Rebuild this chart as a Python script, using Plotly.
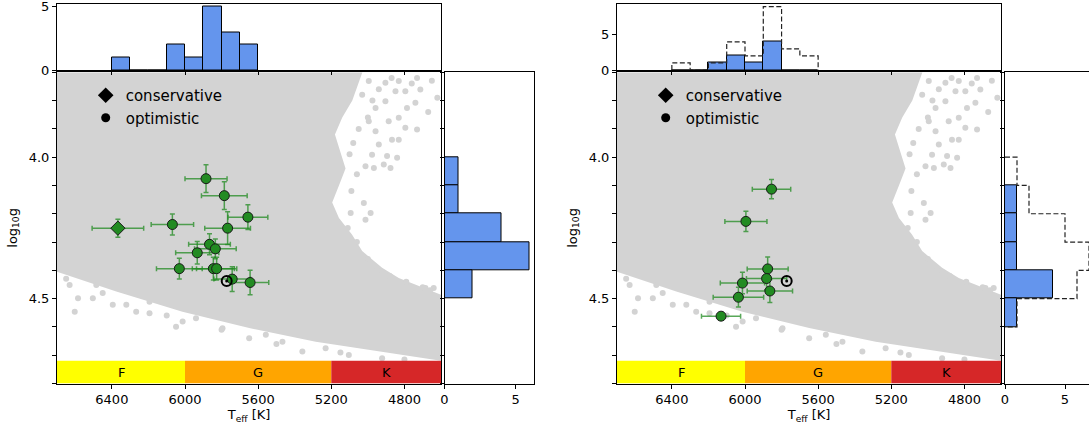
import numpy as np
import plotly.graph_objects as go

# ---------------- data ----------------
teff_ticks = [6400, 6000, 5600, 5200, 4800]
logg_major_ticks = [4.0, 4.5]
logg_minor_ticks = [3.7, 3.8, 3.9, 4.1, 4.2, 4.3, 4.4, 4.6, 4.7, 4.8]
teff_range = [6700, 4600]
logg_range = [4.8, 3.7]

spectral_types = ["F", "G", "K"]
spectral_edges = [6700, 6000, 5200, 4600]
spectral_colors = ["#ffff00", "#ffa500", "#d62728"]
spectral_band_logg = [4.72, 4.8]

# background stellar population: outline of the dense part
cloud_teff = [6700, 5030, 5085, 5140, 5180, 5122, 5158, 5195, 5158, 5086, 5031, 4922,
              4831, 4740, 4600, 4600, 4924, 5285, 5649, 6014, 6376, 6700]
cloud_logg = [3.70, 3.70, 3.80, 3.86, 3.92, 4.04, 4.10, 4.16, 4.215, 4.274, 4.332, 4.391,
              4.427, 4.45, 4.486, 4.72, 4.687, 4.652, 4.604, 4.546, 4.475, 4.405]
# background stellar population: isolated stars near the edges
sparse_teff = [4904, 4849, 4795, 4731, 4713, 4740, 4786, 4831, 4731, 4868, 4831, 4895, 4840,
               4913, 4876, 4967, 5013, 5022, 4985, 5013, 5094, 4685, 4640, 4995, 4958, 4904,
               4958, 4977, 4940, 4886, 5031, 4995, 4831, 4795,
               4650, 4620, 4670, 4760, 4870, 4940, 4975, 5000, 5050, 5080, 5100, 5060, 5090,
               5110, 5060, 5000, 4950, 4880, 4790, 4700, 4660,
               6603, 6585, 6504, 6395, 6321, 6267, 6194, 6049, 6013, 5940, 5795, 5649, 5558,
               5467, 5358, 5231, 5104, 4922, 6631, 6485, 6194,
               6650, 6450, 6100, 5800, 5500, 5150, 4800]
sparse_logg = [3.737, 3.767, 3.767, 3.72, 3.761, 3.808, 3.826, 3.861, 3.902, 3.938, 3.938,
               3.996, 4.002, 4.026, 4.038, 4.038, 4.032, 4.162, 4.197, 4.221, 4.197, 4.462,
               4.462, 3.873, 3.826, 3.802, 3.908, 3.991, 3.955, 3.873, 3.779, 3.731, 3.731,
               3.896,
               3.73, 3.79, 3.84, 3.74, 3.72, 3.76, 3.80, 3.86, 3.90, 3.95, 3.99, 4.06, 4.12,
               4.25, 4.30, 4.36, 4.40, 4.42, 4.44, 4.46, 4.47,
               4.546, 4.499, 4.499, 4.522, 4.522, 4.546, 4.552, 4.599, 4.581, 4.569, 4.605,
               4.64, 4.628, 4.652, 4.687, 4.675, 4.699, 4.711, 4.452, 4.452, 4.511,
               4.43, 4.48, 4.56, 4.61, 4.66, 4.69, 4.715]

# left panel stars
left_cons_teff = [6367]
left_cons_logg = [4.251]
left_cons_teff_err = [141]
left_cons_logg_err = [0.032]
left_opt_teff = [6069, 5885, 5785, 5656, 5767, 5866, 5834, 5933, 6031, 5845, 5827, 5742, 5644]
left_opt_logg = [4.238, 4.076, 4.136, 4.212, 4.251, 4.308, 4.324, 4.338, 4.394, 4.394, 4.394,
                 4.431, 4.443]
left_opt_teff_err = [116, 115, 125, 109, 125, 114, 114, 118, 125, 115, 110, 100, 102]
left_opt_logg_err = [0.037, 0.049, 0.049, 0.044, 0.058, 0.037, 0.035, 0.040, 0.037, 0.040,
                     0.040, 0.044, 0.043]

# right panel stars
right_opt_teff = [5855, 5995, 5876, 5882, 6014, 5864, 6036, 6131]
right_opt_logg = [4.113, 4.227, 4.395, 4.429, 4.445, 4.473, 4.495, 4.562]
right_opt_teff_err = [105, 115, 112, 110, 121, 124, 138, 107]
right_opt_logg_err = [0.034, 0.036, 0.042, 0.040, 0.038, 0.041, 0.035, 0.012]

sun_teff = [5772]
sun_logg = [4.438]

# histograms
teff_bin_edges = [6400, 6300, 6200, 6100, 6000, 5900, 5800, 5700, 5600]
left_teff_counts = [1, 0, 0, 2, 1, 5, 3, 2]
right_teff_counts = [0, 0, 1, 2, 1, 4, 0, 0]
logg_bin_edges = [4.0, 4.1, 4.2, 4.3, 4.4, 4.5, 4.6]
left_logg_counts = [1, 1, 4, 6, 2, 0]
right_logg_counts = [0, 1, 1, 1, 4, 1]
hist_ticks = [0, 5]

# ---------------- styling ----------------
FONT = "DejaVu Sans"
GREY = "#d3d3d3"
GREEN = "#228b22"
GREEN_ERR = "rgba(34,139,34,0.75)"
BLUE = "#6495ed"
W, H = 1089, 430


def dxp(a, b):
    return [a / W, b / W]


def dyp(top, bottom):
    return [1 - bottom / H, 1 - top / H]


fig = go.Figure()


def step_path(edges, counts):
    xs, ys = [edges[0]], [0]
    for i, c in enumerate(counts):
        xs += [edges[i], edges[i + 1]]
        ys += [c, c]
    xs.append(edges[-1])
    ys.append(0)
    return xs, ys


def add_panel(m, opt, cons, legend_name):
    xm, ym = ("x" if m == 1 else f"x{m}"), ("y" if m == 1 else f"y{m}")
    fig.add_trace(go.Scatter(x=cloud_teff, y=cloud_logg, fill="toself", fillcolor=GREY,
                             mode="lines", line=dict(width=0, color=GREY), hoverinfo="skip",
                             showlegend=False, xaxis=xm, yaxis=ym))
    fig.add_trace(go.Scatter(x=sparse_teff, y=sparse_logg, mode="markers",
                             marker=dict(size=6, color=GREY), hoverinfo="skip",
                             showlegend=False, xaxis=xm, yaxis=ym))
    if cons is not None:
        ct, cg, cte, cge = cons
        fig.add_trace(go.Scatter(x=ct, y=cg, mode="markers",
                                 marker=dict(symbol="diamond", size=11, color=GREEN,
                                             line=dict(width=1, color="#1a1a1a")),
                                 error_x=dict(type="data", array=cte, color=GREEN_ERR,
                                              thickness=1.5, width=2.5),
                                 error_y=dict(type="data", array=cge, color=GREEN_ERR,
                                              thickness=1.5, width=2.5),
                                 showlegend=False, xaxis=xm, yaxis=ym))
    ot, og, ote, oge = opt
    fig.add_trace(go.Scatter(x=ot, y=og, mode="markers",
                             marker=dict(symbol="circle", size=10, color=GREEN,
                                         line=dict(width=1, color="#1a1a1a")),
                             error_x=dict(type="data", array=ote, color=GREEN_ERR,
                                          thickness=1.5, width=2.5),
                             error_y=dict(type="data", array=oge, color=GREEN_ERR,
                                          thickness=1.5, width=2.5),
                             showlegend=False, xaxis=xm, yaxis=ym))
    # Sun symbol
    fig.add_trace(go.Scatter(x=sun_teff, y=sun_logg, mode="markers",
                             marker=dict(symbol="circle-open", size=10, color="black",
                                         line=dict(width=2, color="black")),
                             showlegend=False, xaxis=xm, yaxis=ym))
    fig.add_trace(go.Scatter(x=sun_teff, y=sun_logg, mode="markers",
                             marker=dict(symbol="circle", size=3, color="black"),
                             showlegend=False, xaxis=xm, yaxis=ym))
    # legend entries
    fig.add_trace(go.Scatter(x=[None], y=[None], mode="markers", name="conservative",
                             marker=dict(symbol="diamond", size=12, color="black"),
                             legend=legend_name, legendgroup=legend_name + "a",
                             xaxis=xm, yaxis=ym))
    fig.add_trace(go.Scatter(x=[None], y=[None], mode="markers", name="optimistic",
                             marker=dict(symbol="circle", size=9, color="black"),
                             legend=legend_name, legendgroup=legend_name + "b",
                             xaxis=xm, yaxis=ym))


add_panel(1, (left_opt_teff, left_opt_logg, left_opt_teff_err, left_opt_logg_err),
          (left_cons_teff, left_cons_logg, left_cons_teff_err, left_cons_logg_err), "legend")
add_panel(4, (right_opt_teff, right_opt_logg, right_opt_teff_err, right_opt_logg_err),
          None, "legend2")

# histograms
te = np.array(teff_bin_edges, dtype=float)
te_c = (te[:-1] + te[1:]) / 2
te_w = np.abs(np.diff(te))
le = np.array(logg_bin_edges, dtype=float)
le_c = (le[:-1] + le[1:]) / 2
le_w = np.abs(np.diff(le))
comb_teff = np.array(left_teff_counts) + np.array(right_teff_counts)
comb_logg = np.array(left_logg_counts) + np.array(right_logg_counts)

DASH = dict(color="#222", width=1.2, dash="5px,2.5px")
sx, sy = step_path(teff_bin_edges, comb_teff.tolist())
fig.add_trace(go.Scatter(x=sx, y=sy, mode="lines", line=DASH, showlegend=False,
                         xaxis="x5", yaxis="y5"))
edges_path, counts_path = step_path(logg_bin_edges, comb_logg.tolist())
fig.add_trace(go.Scatter(x=counts_path, y=edges_path, mode="lines", line=DASH,
                         showlegend=False, xaxis="x6", yaxis="y6"))

for counts, xa, ya in [(left_teff_counts, "x2", "y2"), (right_teff_counts, "x5", "y5")]:
    fig.add_trace(go.Bar(x=te_c, y=counts, width=te_w, marker=dict(color=BLUE,
                         line=dict(color="black", width=1)), showlegend=False,
                         xaxis=xa, yaxis=ya))
for counts, xa, ya in [(left_logg_counts, "x3", "y3"), (right_logg_counts, "x6", "y6")]:
    fig.add_trace(go.Bar(y=le_c, x=counts, width=le_w, orientation="h",
                         marker=dict(color=BLUE, line=dict(color="black", width=1)),
                         showlegend=False, xaxis=xa, yaxis=ya))

# ---------------- layout ----------------
tickfont = dict(family=FONT, size=13, color="black")
axis_common = dict(showline=True, linecolor="black", linewidth=1, mirror=True,
                   ticks="outside", ticklen=4, tickwidth=1, tickcolor="black",
                   showgrid=False, zeroline=False, tickfont=tickfont, automargin=False,
                   ticklabeloverflow="allow")
minor_ticks = dict(tickvals=logg_minor_ticks, ticks="outside", ticklen=4, tickwidth=1,
                   tickcolor="black", showgrid=False)

main_top, main_bottom = 72.3, 383.5
top_top, top_bottom = 3.5, 70.0

layout = dict(
    width=W, height=H, margin=dict(l=0, r=0, t=0, b=0, autoexpand=False),
    paper_bgcolor="white", plot_bgcolor="white",
    font=dict(family=FONT, size=13, color="black"),
    bargap=0,
)

panels = [
    dict(main=1, top=2, right=3, x0=57, x1=441, rx0=444.5, rx1=534,
         top_range=[0, 5.25], right_range=[0, 6.3], right_mirror=True),
    dict(main=4, top=5, right=6, x0=617, x1=1001, rx0=1005, rx1=1089,
         top_range=[0, 9.45], right_range=[0, 7.0], right_mirror=False),
]
for p in panels:
    m, t, r = p["main"], p["top"], p["right"]
    mx = "xaxis" if m == 1 else f"xaxis{m}"
    my = "yaxis" if m == 1 else f"yaxis{m}"
    ms = "" if m == 1 else str(m)
    layout[mx] = dict(axis_common, domain=dxp(p["x0"], p["x1"]), range=teff_range,
                      anchor="y" + ms, tickvals=teff_ticks,
                      title=dict(text="T<sub>eff</sub> [K]", font=tickfont, standoff=2))
    layout[my] = dict(axis_common, domain=dyp(main_top, main_bottom), range=logg_range,
                      anchor="x" + ms, tickvals=logg_major_ticks, tickformat=".1f",
                      minor=minor_ticks,
                      title=dict(text="log<sub>10</sub>g", font=tickfont, standoff=8))
    layout[f"xaxis{t}"] = dict(axis_common, domain=dxp(p["x0"], p["x1"]), range=teff_range,
                               anchor=f"y{t}", tickvals=teff_ticks, showticklabels=False)
    layout[f"yaxis{t}"] = dict(axis_common, domain=dyp(top_top, top_bottom),
                               range=p["top_range"], anchor=f"x{t}", tickvals=hist_ticks)
    layout[f"xaxis{r}"] = dict(axis_common, domain=dxp(p["rx0"], p["rx1"]),
                               range=p["right_range"], anchor=f"y{r}", tickvals=hist_ticks)
    layout[f"yaxis{r}"] = dict(axis_common, domain=dyp(main_top, main_bottom),
                               range=logg_range, anchor=f"x{r}",
                               tickvals=logg_major_ticks, minor=minor_ticks,
                               showticklabels=False, mirror=p["right_mirror"])

fig.update_layout(**layout)

# spectral type band
shapes, annotations = [], []
for ax_s in ["", "4"]:
    for i, (sp, col) in enumerate(zip(spectral_types, spectral_colors)):
        shapes.append(dict(type="rect", xref="x" + ax_s, yref="y" + ax_s,
                           x0=spectral_edges[i], x1=spectral_edges[i + 1],
                           y0=spectral_band_logg[0], y1=spectral_band_logg[1],
                           fillcolor=col, line=dict(width=0), layer="above"))
        annotations.append(dict(xref="x" + ax_s, yref="y" + ax_s,
                                x=(spectral_edges[i] + spectral_edges[i + 1]) / 2,
                                y=sum(spectral_band_logg) / 2, text=sp, showarrow=False,
                                font=dict(family=FONT, size=13, color="black")))
fig.update_layout(shapes=shapes, annotations=annotations)

legend_style = dict(xanchor="left", yanchor="top", bgcolor="rgba(0,0,0,0)",
                    font=dict(family=FONT, size=15, color="black"), tracegroupgap=0,
                    borderwidth=0, itemwidth=30)
fig.update_layout(
    legend=dict(legend_style, x=85.7 / W, y=1 - 79 / H),
    legend2=dict(legend_style, x=645.7 / W, y=1 - 79 / H),
)

fig.write_html("out.html",
               config={"displayModeBar": False},
               post_script="document.body.style.margin='0';"
                           "document.body.style.overflow='hidden';")
